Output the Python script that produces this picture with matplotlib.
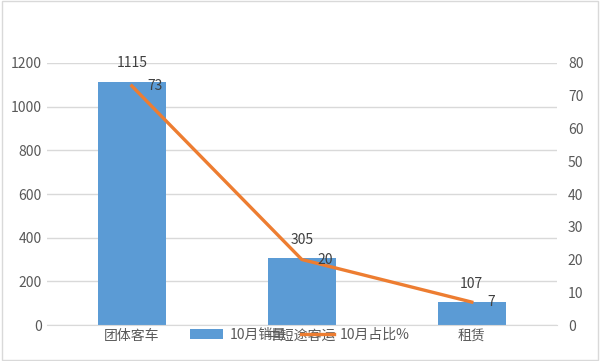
import matplotlib
matplotlib.use("Agg")
import matplotlib.pyplot as plt
from matplotlib.patches import Rectangle

plt.rcParams['font.family'] = ['Noto Sans CJK SC', 'DejaVu Sans']

categories = ["团体客车", "中短途客运", "租赁"]
sales = [1115, 305, 107]
share = [73, 20, 7]

blue = "#5B9BD5"
orange = "#ED7D31"
grey = "#595959"

fig = plt.figure(figsize=(6, 3.61), dpi=100)
fig.patches.append(Rectangle((0.004, 0.004), 0.992, 0.992, transform=fig.transFigure,
                             fill=False, edgecolor="#D9D9D9", linewidth=1))
ax = fig.add_axes([0.078, 0.0997, 0.85, 0.7258])
x = range(len(categories))
bars = ax.bar(x, sales, width=0.4, color=blue, label="10月销量", zorder=2)
ax.set_ylim(0, 1200)
ax.set_xlim(-0.5, 2.5)
ax.set_yticks(range(0, 1201, 200))
ax.grid(axis="y", color="#D9D9D9", linewidth=1, zorder=0)
ax.set_xticks(list(x))
ax.set_xticklabels(categories, fontsize=10, color=grey)
ax.tick_params(axis="both", length=0, colors=grey, labelsize=10)
ax.tick_params(axis="x", pad=3)
for s in ax.spines.values():
    s.set_visible(False)
ax.spines["bottom"].set_visible(True)
ax.spines["bottom"].set_color("#D9D9D9")

# bar value labels sit a bit above the bars
for xi, v in zip(x, sales):
    ax.annotate(str(v), (xi, v), xytext=(0, 13), textcoords="offset points",
                ha="center", va="center", fontsize=10, color="#404040")

ax2 = ax.twinx()
ax2.set_ylim(0, 80)
ax2.set_yticks(range(0, 81, 10))
ax2.tick_params(axis="y", length=0, colors=grey, labelsize=10, pad=8)
for s in ax2.spines.values():
    s.set_visible(False)
line, = ax2.plot(list(x), share, color=orange, linewidth=2.4, label="10月占比%", zorder=3)
for xi, v in zip(x, share):
    ax2.annotate(str(v), (xi, v), xytext=(11, 0), textcoords="offset points",
                 ha="left", va="center", fontsize=10, color="#404040")

fig.legend([bars, line], ["10月销量", "10月占比%"], loc="center",
           bbox_to_anchor=(0.5, 0.072), ncol=2, frameon=False, fontsize=10,
           labelcolor=grey, handlelength=2.4, columnspacing=1.0, handletextpad=0.45)

fig.savefig("out.png", dpi=100)
